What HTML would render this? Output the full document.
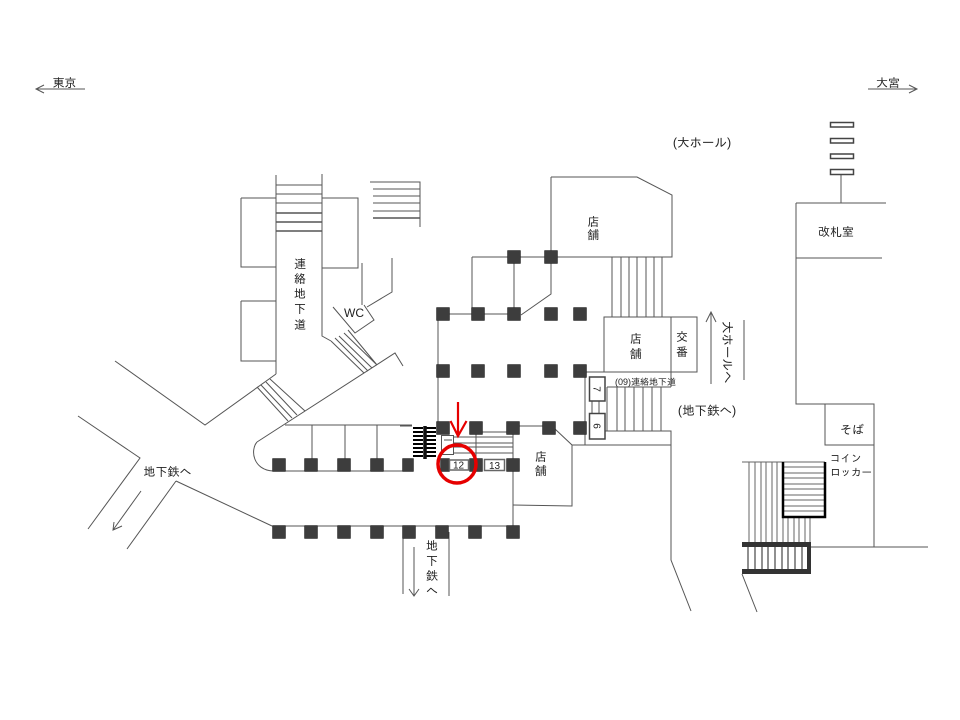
<!DOCTYPE html>
<html lang="ja"><head><meta charset="utf-8"><title>構内図</title>
<style>html,body{margin:0;padding:0;background:#fff}svg{display:block}
text{font-family:"Liberation Sans","IPAGothic","Noto Sans CJK JP",sans-serif;font-size:12px;fill:#222}
.c{text-anchor:middle}</style></head><body>
<svg width="960" height="720" viewBox="0 0 960 720" xmlns="http://www.w3.org/2000/svg">
<rect width="960" height="720" fill="#fff"/>
<!-- general lines -->
<g fill="none" stroke="#555" stroke-width="1">
<path d="M276 175V374M322 174V336L331 341M241 198H276M241 198V267H276M241 301H276M241 301V361H276M322 198H358V268H322"/>
<path d="M276 185H322M276 194H322M276 203H322"/>
<path d="M370 182H420V227M373 189H420M373 196H420M373 203H420M373 211H420"/>
<path d="M333 307L355 333L374 320L364 305M362 263V305M367 307L392 292V258"/>
<path d="M331 341L364 373M335 338L368 371M339 336L372 368M344 333L377 365M348 330L377 365"/>
<path d="M257 442L395 353L403 366M115 361L205 425L276 374"/>
<path d="M257 387L288 421M261 385L292 418M266 382L297 415M270 379L305 411"/>
<path d="M78 416L140 458L88 529M176 481L127 549M176 481L272 526"/>
<path d="M141 491L113 530M114 522L113 530L122 526"/>
<path d="M257 442C250 450 253 470 273 471H413M285 425H412M312 425V460M345 425V460M377 425V460"/>
<path d="M272 526H513M403 532V594M449 532V596M414 547V596M409 589L414 596L419 589"/>
<path d="M438 314V428M438 314H514M472 257V314M472 257H551M514 257V314"/>
<path d="M551 177V294L521 315M551 177H637L672 195V257H551"/>
<path d="M612 257V317M621 257V317M629 257V317M637 257V317M646 257V317M654 257V317M662 257V317"/>
<path d="M604 372V317H697V372H585M671 317V387M585 372V445M607 387H671"/>
<path d="M607 387V431M617 387V431M625 387V431M634 387V431M643 387V431M652 387V431M661 387V431"/>
<path d="M605 431H671V560L691 611M572 445H671M592 401V413M599 401V413"/>
<path d="M796 203H886M796 203V404H874V547M796 258H882M825 404V445H874M811 547H928"/>
<path d="M841 175V203M868 89H917M909 85L917 89L909 93M85 89H36M44 85L36 89L44 93"/>
<path d="M711 384V312M706 322L711 312L716 322M744 320V380"/>
<path d="M470 432H513M453 437H513M453 443H513M453 447H513M453 453H513M476 428V458M513 428V532"/>
<path d="M519 426H543M400 426H412M555 429L572 445V506L513 505"/>
<path d="M742 574L757 612"/>
</g>
<path d="M276 213H322M276 222H322M276 231H322M373 218H420" stroke="#555" stroke-width="1.5" fill="none"/>
<!-- right stairs -->
<g fill="none" stroke="#666" stroke-width="1">
<path d="M742 462H783M749 462V542M755 462V542M761 462V542M766 462V542M772 462V542M777 462V542M783 517V542M788 517V542M794 517V542M799 517V542M805 517V542M810 517V542"/>
<path d="M783 467H825M783 473H825M783 478H825M783 484H825M783 489H825M783 495H825M783 500H825M783 506H825M783 511H825M783 462H825"/>
</g>
<path d="M748 547V569M755 547V569M762 547V569M768 547V569M775 547V569M782 547V569M788 547V569M795 547V569M802 547V569" stroke="#222" fill="none"/>
<path d="M783 462V517H825V462" stroke="#000" stroke-width="2.5" fill="none"/>
<path d="M742 542H811V574H742V569H807V547H742Z" fill="#333"/>
<!-- black stairs -->
<path d="M413 428H423M426 428H436M413 432H423M426 432H436M413 436H423M426 436H436M413 440H423M426 440H436M413 444H423M426 444H436M413 448H423M426 448H436M413 452H423M426 452H436M413 456H423M426 456H436" stroke="#000" stroke-width="2" fill="none"/>
<path d="M425 426V459" stroke="#111" stroke-width="3.5" fill="none"/>
<!-- pillars -->
<path fill="#3d3d3d" stroke="#222" stroke-width=".5" d="
M507.5 250.5h13v13h-13zM544.5 250.5h13v13h-13z
M436.5 307.5h13v13h-13zM471.5 307.5h13v13h-13zM507.5 307.5h13v13h-13zM544.5 307.5h13v13h-13zM573.5 307.5h13v13h-13z
M436.5 364.5h13v13h-13zM471.5 364.5h13v13h-13zM507.5 364.5h13v13h-13zM544.5 364.5h13v13h-13zM573.5 364.5h13v13h-13z
M436.5 421.5h13v13h-13zM469.5 421.5h13v13h-13zM506.5 421.5h13v13h-13zM542.5 421.5h13v13h-13zM573.5 421.5h13v13h-13z
M272.5 458.5h13v13h-13zM304.5 458.5h13v13h-13zM337.5 458.5h13v13h-13zM370.5 458.5h13v13h-13zM402.5 458.5h11v13h-11zM440.5 458.5h9v13h-9zM469.5 458.5h13v13h-13zM506.5 458.5h13v13h-13z
M272.5 525.5h13v13h-13zM304.5 525.5h13v13h-13zM337.5 525.5h13v13h-13zM370.5 525.5h13v13h-13zM402.5 525.5h13v13h-13zM435.5 525.5h13v13h-13zM468.5 525.5h13v13h-13zM506.5 525.5h13v13h-13z"/>
<!-- signs -->
<g fill="#fff" stroke="#555">
<rect x="441.5" y="435.5" width="12" height="19"/>
</g>
<g fill="#fff" stroke="#666" stroke-width="1.5">
<rect x="449.500" y="460" width="19" height="10"/>
<rect x="484.500" y="459.500" width="20" height="11"/>
</g>
<path d="M444 440H452" stroke="#555" fill="none"/>
<g fill="#fff" stroke="#444" stroke-width="1.5">
<rect x="589.5" y="377" width="15.5" height="24"/>
<rect x="589.5" y="413.5" width="15.5" height="25.5"/>
<rect x="830.5" y="122.5" width="23" height="4.5"/>
<rect x="830.5" y="138.5" width="23" height="4.5"/>
<rect x="830.5" y="154" width="23" height="4.5"/>
<rect x="830.5" y="169.5" width="23" height="5"/>
</g>
<!-- red -->
<circle cx="457" cy="464" r="19" fill="none" stroke="#e60000" stroke-width="3.5"/>
<path d="M458 402V436M450.5 421L458 436L466.5 421" fill="none" stroke="#e60000" stroke-width="2.2"/>
<!-- labels -->
<text x="64.500" y="87" class="c">東京</text>
<text x="888" y="87" class="c">大宮</text>
<text x="702" y="147" class="c" style="font-size:12.500px">(大ホール)</text>
<text x="593.500" y="226" class="c">店</text><text x="593.500" y="239" class="c">舗</text>
<text x="300" y="268" class="c">連</text><text x="300" y="283" class="c">絡</text><text x="300" y="298" class="c">地</text><text x="300" y="313" class="c">下</text><text x="300" y="329" class="c">道</text>
<text x="354" y="317" class="c">WC</text>
<text x="636" y="343" class="c">店</text><text x="636" y="358" class="c">舗</text>
<text x="682" y="341" class="c">交</text><text x="682" y="356" class="c">番</text>
<text transform="translate(723 321) rotate(90)" style="font-size:12.5px">大ホールへ</text>
<text x="645.500" y="385" class="c" style="font-size:9px">(09)連絡地下道</text>
<text transform="translate(597 389) rotate(90)" y="3.500" class="c" style="font-size:10px">7</text>
<text transform="translate(597 426) rotate(90)" y="3.500" class="c" style="font-size:10px">6</text>
<text x="707" y="415" class="c" style="font-size:12.500px">(地下鉄へ)</text>
<text x="541" y="461" class="c">店</text><text x="541" y="475" class="c">舗</text>
<text x="458.500" y="468.500" class="c" style="font-size:10px">12</text>
<text x="494.500" y="469" class="c" style="font-size:10px">13</text>
<text x="836" y="236" class="c">改札室</text>
<text x="852" y="434" class="c">そば</text>
<text x="830" y="462" style="font-size:10.500px">コイン</text>
<text x="830" y="476" style="font-size:10.500px">ロッカー</text>
<text x="167.500" y="476" class="c">地下鉄へ</text>
<text x="432" y="550" class="c">地</text><text x="432" y="565" class="c">下</text><text x="432" y="580" class="c">鉄</text><text x="432" y="595" class="c">へ</text>
</svg>
</body></html>
